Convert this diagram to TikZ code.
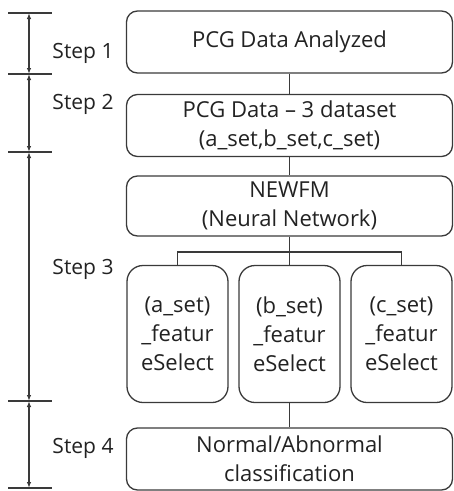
\documentclass[tikz,border=0pt]{standalone}
\usepackage{fontspec}
\setmainfont{Open Sans}
\usetikzlibrary{arrows.meta}
\definecolor{linegray}{HTML}{3A3A3A}
\definecolor{txtgray}{HTML}{222222}

\begin{document}
\begin{tikzpicture}[x=1pt, y=-1pt, font=\fontsize{22}{29}\selectfont,
box/.style={draw=linegray, line width=1.3pt, rounded corners=11pt, inner sep=0pt, align=center, text=txtgray, minimum width=326pt, minimum height=62pt},
featbox/.style={box, rounded corners=16pt, minimum width=101pt, minimum height=137pt},
wire/.style={draw=linegray, line width=1.3pt},
span/.style={wire, {Latex[length=6pt,width=4.5pt]}-{Latex[length=6pt,width=4.5pt]}}]
\tikzstyle{steplabel}=[text=txtgray, inner sep=0pt, font=\fontsize{21}{29}\selectfont]
 \def\ax{29}
\useasboundingbox (0,0) rectangle (454,491);
%steps on the left
\coordinate (t1) at (\ax,13);
\coordinate (t2) at (\ax,74);
\coordinate (t3) at (\ax,152);
\coordinate (t4) at (\ax,401);
\coordinate (t5) at (\ax,488);
\foreach \t in {t1,t2,t3,t4,t5}
  \draw[wire] ([xshift=-21pt]\t) -- ([xshift=23pt]\t);
\draw[span] (t1) -- (t2);
\draw[span] (t2) -- (t3);
\draw[span] (t3) -- (t4);
\draw[span] (t4) -- (t5);
\node[steplabel] (s1) at (83,53)  {Step 1};
\node[steplabel] (s2) at (83,104) {Step 2};
\node[steplabel] (s3) at (83,269) {Step 3};
\node[steplabel] (s4) at (83,448) {Step 4};
%boxes
\node[box] (analyzed) at (289.5,42)    {PCG Data Analyzed};
\node[box] (dataset)  at (289.5,125.5) {PCG Data -- 3 dataset\\(a\_set,b\_set,c\_set)};
\node[box, minimum height=60pt] (newfm) at (289.5,206) {NEWFM\\(Neural Network)};
\node[featbox] (feata) at (177.5,334) {(a\_set)\\\_featur\\eSelect};
\node[featbox] (featb) at (289.5,334) {(b\_set)\\\_featur\\eSelect};
\node[featbox] (featc) at (401.5,334) {(c\_set)\\\_featur\\eSelect};
\node[box] (result) at (289.5,459) {Normal/Abnormal\\classification};
%links
\coordinate (fork) at (289.5,252);
\draw[wire] (analyzed) -- (dataset);
\draw[wire] (dataset) -- (newfm);
\draw[wire] (newfm) -- (fork);
\draw[wire] (feata.north) |- (fork) -| (featc.north);
\draw[wire] (fork) -- (featb);
\draw[wire] (featb) -- (result);
\end{tikzpicture}
\end{document}
